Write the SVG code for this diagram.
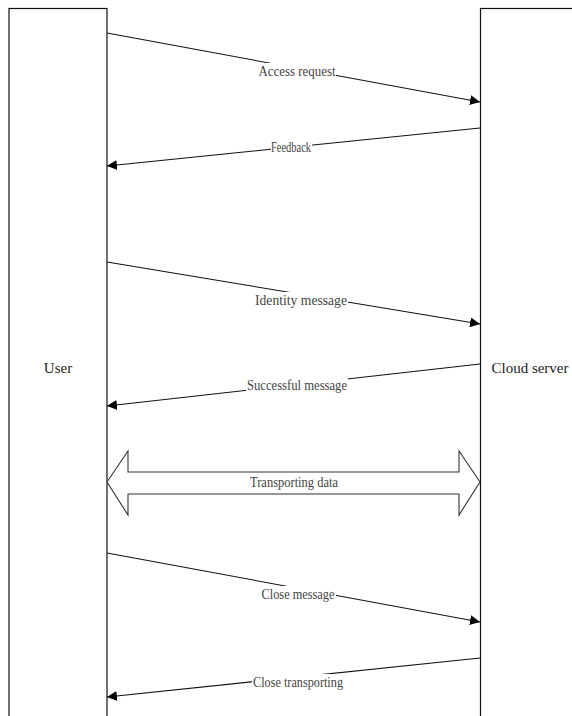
<svg xmlns="http://www.w3.org/2000/svg" width="572" height="716" viewBox="0 0 572 716">
<style>
.box{fill:#fff;stroke:#111;stroke-width:1.2}
.msg{fill:none;stroke:#111;stroke-width:1.1}
.bg{fill:#fff}
.lbl{font-family:"Liberation Serif",serif;font-size:14px;fill:#444;text-anchor:middle}
.name{font-family:"Liberation Serif",serif;font-size:15px;fill:#222;text-anchor:middle}
</style>
<defs>
<marker id="ah" viewBox="0 0 10 10" refX="10" refY="5" markerWidth="10" markerHeight="10" markerUnits="userSpaceOnUse" orient="auto">
<path d="M0,0 L10,5 L0,10 Z" fill="#000"/>
</marker>
</defs>
<rect width="572" height="716" fill="#fff"/>
<g id="user">
<rect class="box" x="9" y="8.5" width="98" height="720"/>
<text class="name" x="58" y="373">User</text>
</g>
<g id="cloud-server">
<rect class="box" x="480.5" y="8.5" width="110" height="720"/>
<text class="name" x="530" y="373">Cloud server</text>
</g>
<g id="connectors">
<line class="msg" x1="107" y1="33" x2="480" y2="102" marker-end="url(#ah)"/>
<rect class="bg" x="258" y="63" width="78" height="17"/>
<text class="lbl" x="297" y="76" textLength="77" lengthAdjust="spacingAndGlyphs">Access request</text>
<line class="msg" x1="480" y1="128" x2="107" y2="166" marker-end="url(#ah)"/>
<rect class="bg" x="271" y="139" width="41" height="17"/>
<text class="lbl" x="291" y="152" textLength="40" lengthAdjust="spacingAndGlyphs">Feedback</text>
<line class="msg" x1="107" y1="262" x2="480" y2="324" marker-end="url(#ah)"/>
<rect class="bg" x="254" y="292" width="94" height="17"/>
<text class="lbl" x="301" y="305" textLength="92" lengthAdjust="spacingAndGlyphs">Identity message</text>
<line class="msg" x1="480" y1="364" x2="107" y2="406" marker-end="url(#ah)"/>
<rect class="bg" x="246" y="377" width="102" height="17"/>
<text class="lbl" x="297" y="390" textLength="100" lengthAdjust="spacingAndGlyphs">Successful message</text>
<g id="transporting-data">
<path d="M107,482 L128,451 L128,472 L459,472 L459,451 L480,482 L459,515 L459,494 L128,494 L128,515 Z" fill="#fff" stroke="#333" stroke-width="1.1" stroke-linejoin="miter"/>
<text class="lbl" x="294" y="487" textLength="88" lengthAdjust="spacingAndGlyphs">Transporting data</text>
</g>
<line class="msg" x1="107" y1="553" x2="480" y2="622" marker-end="url(#ah)"/>
<rect class="bg" x="261" y="586" width="75" height="17"/>
<text class="lbl" x="298" y="599" textLength="73" lengthAdjust="spacingAndGlyphs">Close message</text>
<line class="msg" x1="480" y1="658" x2="107" y2="697" marker-end="url(#ah)"/>
<rect class="bg" x="252" y="674" width="92" height="17"/>
<text class="lbl" x="298" y="687" textLength="90" lengthAdjust="spacingAndGlyphs">Close transporting</text>
</g>
</svg>
